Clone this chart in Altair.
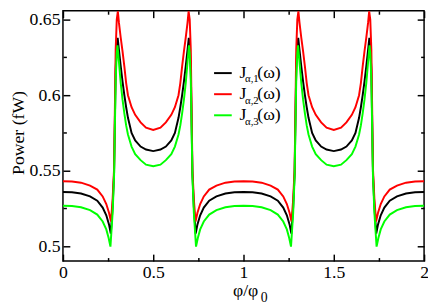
import altair as alt
import pandas as pd

FONT = "Liberation Serif, Times New Roman, Tinos, DejaVu Serif, serif"
SERIES = ["J1", "J2", "J3"]
COLORS = ["#000000", "#ff0000", "#00ff00"]
SUBS = ["α,1", "α,2", "α,3"]
LEG_MAIN = "J"
LEG_TAIL = "(ω)"
X_TITLE = "φ/φ"
X_TITLE_SUB = "0"
Y_TITLE = "Power (fW)"

X_MAJOR = [0, 0.5, 1, 1.5, 2]
X_MINOR = [0.25, 0.75, 1.25, 1.75]
Y_MAJOR = [0.5, 0.55, 0.6, 0.65]
Y_MINOR = [0.525, 0.575, 0.625]

# readings over half a period (0 <= phi/phi0 <= 0.5); curves are symmetric and periodic
x_black = [0.00, 0.05, 0.10, 0.15, 0.19, 0.22, 0.24, 0.255, 0.265, 0.275, 0.283, 0.292, 0.298, 0.303,
           0.31, 0.32, 0.33, 0.34, 0.35, 0.36, 0.38, 0.40, 0.43, 0.46, 0.50]
p_black = [0.5359, 0.5357, 0.5349, 0.5330, 0.5302, 0.5256, 0.5205, 0.5145, 0.5084, 0.526, 0.548, 0.617, 0.633, 0.638,
           0.630, 0.619, 0.609, 0.600, 0.592, 0.585, 0.575, 0.570, 0.566, 0.564, 0.563]
x_red = [0.00, 0.05, 0.10, 0.15, 0.19, 0.22, 0.24, 0.255, 0.266, 0.275, 0.283, 0.292, 0.298, 0.304,
         0.31, 0.32, 0.33, 0.34, 0.35, 0.36, 0.38, 0.40, 0.43, 0.46, 0.50]
p_red = [0.5431, 0.5429, 0.5421, 0.5402, 0.5375, 0.5330, 0.5280, 0.5222, 0.5164, 0.531, 0.551, 0.630, 0.650, 0.6555,
         0.648, 0.638, 0.629, 0.619, 0.608, 0.600, 0.592, 0.587, 0.582, 0.5785, 0.577]
x_green = [0.00, 0.05, 0.10, 0.15, 0.19, 0.22, 0.24, 0.253, 0.263, 0.275, 0.283, 0.292, 0.298, 0.302,
           0.31, 0.32, 0.33, 0.34, 0.35, 0.36, 0.38, 0.40, 0.43, 0.46, 0.50]
p_green = [0.5268, 0.5266, 0.5258, 0.5239, 0.5210, 0.5164, 0.5112, 0.5055, 0.4998, 0.522, 0.546, 0.610, 0.628, 0.633,
           0.622, 0.608, 0.597, 0.588, 0.580, 0.574, 0.566, 0.561, 0.557, 0.554, 0.553]


def full_curve(xs, ps):
    half = list(zip(xs, ps))
    period = half + [(1 - x, p) for x, p in reversed(half[:-1])]
    pts = list(period) + [(x + 1, p) for x, p in period[1:]]
    return pts


rows = []
for name, xs, ps in [(SERIES[0], x_black, p_black), (SERIES[1], x_red, p_red), (SERIES[2], x_green, p_green)]:
    for x, p in full_curve(xs, ps):
        rows.append({"s": name, "x": x, "p": p})
df = pd.DataFrame(rows)

W, H = 368, 255
xsc = alt.Scale(domain=[0, 2], nice=False, zero=False)
ysc = alt.Scale(domain=[0.49026, 0.65584], nice=False, zero=False)

main = alt.Chart(df).mark_line(strokeWidth=2, clip=True).encode(
    x=alt.X("x:Q", scale=xsc, axis=alt.Axis(values=X_MAJOR, format="~g", ticks=False, tickSize=0, domain=False,
                                             grid=False, labelFont=FONT, labelFontSize=18, labelColor="black",
                                             labelPadding=3, labelFlush=False, labelOverlap=False, title=None)),
    y=alt.Y("p:Q", scale=ysc, axis=alt.Axis(values=Y_MAJOR, format="~g", ticks=False, tickSize=0, domain=False,
                                             grid=False, labelFont=FONT, labelFontSize=18, labelColor="black",
                                             labelPadding=3, labelFlush=False, labelOverlap=False,
                                             title=Y_TITLE, titleFont=FONT, titleFontSize=18,
                                             titleFontWeight="normal", titleColor="black",
                                             titleX=-40, titleY=124, titleAngle=270,
                                             titleAlign="center", titleBaseline="alphabetic")),
    color=alt.Color("s:N", scale=alt.Scale(domain=SERIES, range=COLORS), legend=None),
    order=alt.Order("x:Q"),
)


def tick_layer(xvals, yvals, size, xo, yo):
    def ax(vals, orient):
        return alt.Axis(orient=orient, values=vals, labels=False, domain=False, grid=False, ticks=True,
                        tickSize=size, offset=-size, tickWidth=1.5, tickColor="black", title=None)
    return alt.Chart(df).mark_point(opacity=0).encode(
        x=alt.X("x:Q", scale=xsc, axis=ax(xvals, xo)),
        y=alt.Y("p:Q", scale=ysc, axis=ax(yvals, yo)),
    )


layers = [
    tick_layer(X_MAJOR, Y_MAJOR, 7, "bottom", "left"),
    tick_layer(X_MINOR, Y_MINOR, 3.5, "bottom", "left"),
    tick_layer(X_MAJOR, Y_MAJOR, 7, "top", "right"),
    tick_layer(X_MINOR, Y_MINOR, 3.5, "top", "right"),
    main,
]

one = pd.DataFrame({"a": [0]})

# x-axis title with subscript
layers.append(alt.Chart(pd.DataFrame({"t": [X_TITLE]})).mark_text(
    font=FONT, fontSize=18, align="right", baseline="alphabetic", color="black").encode(
    text="t:N", x=alt.value(199), y=alt.value(291)))
layers.append(alt.Chart(pd.DataFrame({"t": [X_TITLE_SUB]})).mark_text(
    font=FONT, fontSize=14, align="left", baseline="alphabetic", color="black").encode(
    text="t:N", x=alt.value(201.5), y=alt.value(296.5)))

# legend
for i in range(3):
    ry = 63.5 + 21.5 * i
    layers.append(alt.Chart(one).mark_rule(color=COLORS[i], strokeWidth=2).encode(
        x=alt.value(154), x2=alt.value(172), y=alt.value(ry)))
    layers.append(alt.Chart(pd.DataFrame({"t": [LEG_MAIN]})).mark_text(
        font=FONT, fontSize=18, align="left", baseline="alphabetic", color="black").encode(
        text="t:N", x=alt.value(180), y=alt.value(ry + 4.5)))
    layers.append(alt.Chart(pd.DataFrame({"t": [SUBS[i]]})).mark_text(
        font=FONT, fontSize=11, align="left", baseline="alphabetic", color="black").encode(
        text="t:N", x=alt.value(185.5), y=alt.value(ry + 9.5)))
    layers.append(alt.Chart(pd.DataFrame({"t": [LEG_TAIL]})).mark_text(
        font=FONT, fontSize=18, align="left", baseline="alphabetic", color="black").encode(
        text="t:N", x=alt.value(198), y=alt.value(ry + 4.5)))

chart = alt.layer(*layers).resolve_scale(x="shared", y="shared").resolve_axis(
    x="independent", y="independent"
).properties(
    width=W, height=H,
    padding={"left": 56, "top": 0, "right": 4, "bottom": 43},
    autosize=alt.AutoSizeParams(type="none"),
    background="white",
).configure_view(stroke="black", strokeWidth=1.5)

chart.save("out.html", embed_options={"renderer": "svg", "actions": False})
